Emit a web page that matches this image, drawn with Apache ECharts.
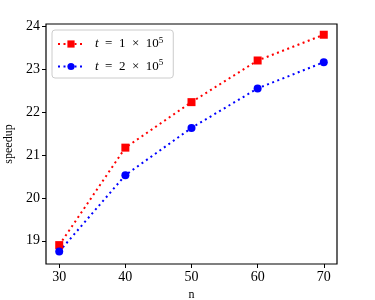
<!DOCTYPE html>
<html>
<head>
<meta charset="utf-8">
<script src="https://cdn.jsdelivr.net/npm/echarts@6/dist/echarts.min.js"></script>
<style>
  html, body { margin: 0; padding: 0; background: #fff; }
  #chart { width: 375px; height: 300px; }
</style>
</head>
<body>
<div id="chart"></div>
<script>
// data
const nValues = [30, 40, 50, 60, 70];
const speedupT1 = [18.90, 21.17, 22.23, 23.20, 23.80];
const speedupT2 = [18.75, 20.53, 21.63, 22.55, 23.16];
const xTicks = [30, 40, 50, 60, 70];
const yTicks = [19, 20, 21, 22, 23, 24];

const font = 'Liberation Serif, DejaVu Serif, serif';

const chart = echarts.init(document.getElementById('chart'));

const legendRich = {
  i: { fontStyle: 'italic', fontFamily: font, fontSize: 13, color: '#000' },
  t: { fontFamily: font, fontSize: 13, color: '#000' },
  sup: { fontFamily: font, fontSize: 9, color: '#000', verticalAlign: 'top', padding: [0, 0, 7, 0] }
};

const option = {
  animation: false,
  grid: {
    left: 46, right: 38, top: 24, bottom: 36,
    outerBoundsMode: 'none', containLabel: false,
    show: true, borderColor: '#000', borderWidth: 1.2, backgroundColor: 'transparent'
  },
  legend: {
    left: 52, top: 30,
    orient: 'vertical',
    itemWidth: 26, itemHeight: 9, itemGap: 8,
    padding: [6, 10, 5, 5],
    backgroundColor: '#fff',
    borderColor: '#ccc', borderWidth: 1, borderRadius: 3,
    textStyle: { fontFamily: font, fontSize: 13, color: '#000', padding: [0, 0, 0, 6], rich: legendRich },
    formatter: function (name) {
      return name === 't1'
        ? '{i|t}{t|  =  1  ×  10}{sup|5}'
        : '{i|t}{t|  =  2  ×  10}{sup|5}';
    },
    data: ['t1', 't2']
  },
  xAxis: {
    type: 'value', min: 28, max: 72,
    name: 'n', nameLocation: 'middle', nameGap: 23,
    nameTextStyle: { fontFamily: font, fontSize: 12, color: '#000' },
    axisLine: { show: false },
    axisTick: { show: true, length: 4, inside: false, customValues: xTicks, lineStyle: { color: '#000' } },
    axisLabel: { customValues: xTicks, fontFamily: font, fontSize: 14, color: '#000', margin: 6 },
    splitLine: { show: false }
  },
  yAxis: {
    type: 'value', min: 18.46, max: 24.05,
    name: 'speedup', nameLocation: 'middle', nameGap: 31, nameRotate: 90,
    nameTextStyle: { fontFamily: font, fontSize: 12, color: '#000' },
    axisLine: { show: false },
    axisTick: { show: true, length: 4, customValues: yTicks, lineStyle: { color: '#000' } },
    axisLabel: { customValues: yTicks, fontFamily: font, fontSize: 14, color: '#000', margin: 6 },
    splitLine: { show: false }
  },
  series: [
    {
      name: 't1', type: 'line',
      data: nValues.map((n, i) => [n, speedupT1[i]]),
      symbol: 'rect', symbolSize: 8,
      itemStyle: { color: '#ff0000' },
      lineStyle: { color: '#ff0000', width: 2, type: [2, 3.5] }
    },
    {
      name: 't2', type: 'line',
      data: nValues.map((n, i) => [n, speedupT2[i]]),
      symbol: 'circle', symbolSize: 8,
      itemStyle: { color: '#0000ff' },
      lineStyle: { color: '#0000ff', width: 2, type: [2, 3.5] }
    }
  ]
};

chart.setOption(option);
</script>
</body>
</html>
